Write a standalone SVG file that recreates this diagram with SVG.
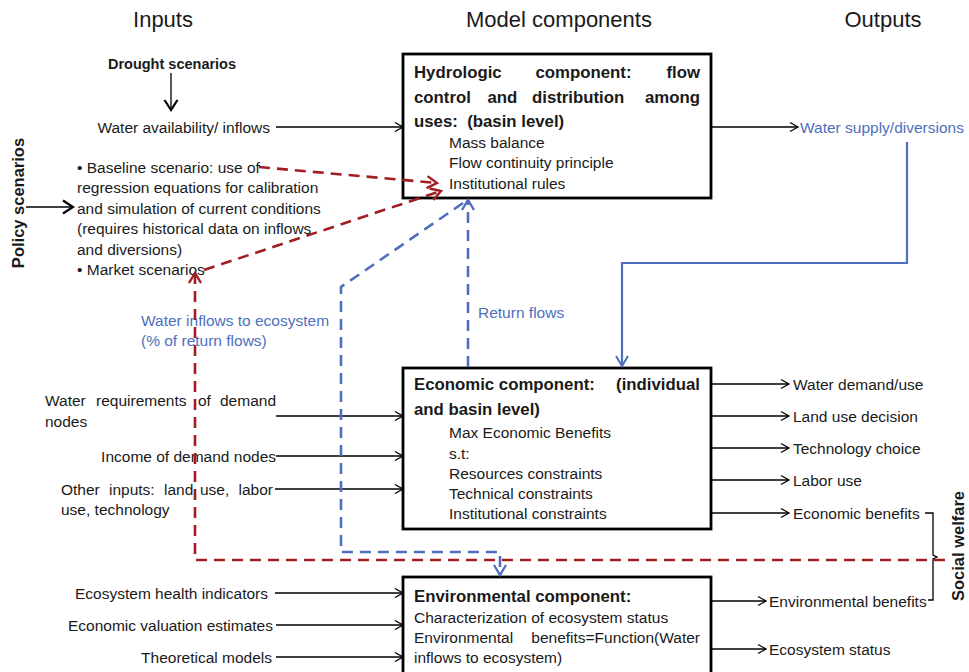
<svg xmlns="http://www.w3.org/2000/svg" width="969" height="672" viewBox="0 0 969 672">
<style>
text{font-family:"Liberation Sans",Arial,sans-serif;fill:#1a1a1a}
.t{font-size:15.5px}
.b{font-size:16.8px;font-weight:bold}
.h{font-size:22px}
.blue{fill:#4f6fbe}
.box{fill:#fff;stroke:#000;stroke-width:2.8}
.ln{stroke:#000;stroke-width:1.3;fill:none}
.red{stroke:#a11d21;stroke-width:2.6;fill:none;stroke-dasharray:11 7}
.bd{stroke:#4f6fbe;stroke-width:2.6;fill:none;stroke-dasharray:11 7}
.bs{stroke:#4f6fbe;stroke-width:2.2;fill:none}
</style>
<defs>
<marker id="ab" markerUnits="userSpaceOnUse" markerWidth="12" markerHeight="12" refX="10" refY="6" orient="auto"><path d="M2,1.5 L10,6 L2,10.5" fill="none" stroke="#000" stroke-width="1.3"/></marker>
<marker id="abt" markerUnits="userSpaceOnUse" markerWidth="16" markerHeight="16" refX="13" refY="8" orient="auto"><path d="M3,1.5 L13,8 L3,14.5" fill="none" stroke="#000" stroke-width="2.2"/></marker>
<marker id="ar" markerUnits="userSpaceOnUse" markerWidth="16" markerHeight="16" refX="13" refY="8" orient="auto"><path d="M3,2 L13,8 L3,14" fill="none" stroke="#a11d21" stroke-width="2.4"/></marker>
<marker id="abl" markerUnits="userSpaceOnUse" markerWidth="16" markerHeight="16" refX="13" refY="8" orient="auto"><path d="M3,2 L13,8 L3,14" fill="none" stroke="#4f6fbe" stroke-width="2.4"/></marker>
<marker id="abs" markerUnits="userSpaceOnUse" markerWidth="16" markerHeight="16" refX="13" refY="8" orient="auto"><path d="M3,2 L13,8 L3,14" fill="none" stroke="#4f6fbe" stroke-width="2"/></marker>
</defs>
<rect width="969" height="672" fill="#fff"/>

<g id="headers">
<text class="h" x="163" y="27" text-anchor="middle">Inputs</text>
<text class="h" x="559" y="27" text-anchor="middle">Model components</text>
<text class="h" x="883" y="27" text-anchor="middle">Outputs</text>
</g>

<g id="drought">
<text class="b" x="172" y="68.5" text-anchor="middle" style="font-size:14.5px">Drought scenarios</text>
</g>
<g id="policy">
<text class="b" transform="translate(24,203) rotate(-90)" text-anchor="middle" style="font-size:16.5px">Policy scenarios</text>
</g>
<g id="social-welfare">
<text class="b" transform="translate(964,546) rotate(-90)" text-anchor="middle" style="font-size:16.5px">Social welfare</text>
</g>

<g id="inputs">
<text class="t" x="270" y="132.5" text-anchor="end">Water availability/ inflows</text>
<text class="t" x="77" y="172.5">• Baseline scenario: use of</text>
<text class="t" x="77" y="192.5">regression equations for calibration</text>
<text class="t" x="77" y="213.5">and simulation of current conditions</text>
<text class="t" x="77" y="233.5">(requires historical data on inflows</text>
<text class="t" x="77" y="254.5">and diversions)</text>
<text class="t" x="77" y="274.5">• Market scenarios</text>
<text class="t" y="405.5"><tspan x="45">Water</tspan><tspan x="96">requirements</tspan><tspan x="198">of</tspan><tspan x="276" text-anchor="end">demand</tspan></text>
<text class="t" x="45" y="426.5">nodes</text>
<text class="t" x="276" y="461.5" text-anchor="end">Income of demand nodes</text>
<text class="t" y="494.5"><tspan x="61">Other</tspan><tspan x="109">inputs:</tspan><tspan x="164">land</tspan><tspan x="200">use,</tspan><tspan x="273" text-anchor="end">labor</tspan></text>
<text class="t" x="61" y="514.5">use, technology</text>
<text class="t" x="268" y="598.5" text-anchor="end">Ecosystem health indicators</text>
<text class="t" x="273" y="630.5" text-anchor="end">Economic valuation estimates</text>
<text class="t" x="272" y="662.5" text-anchor="end">Theoretical models</text>
<text class="t blue" x="141" y="325.5">Water inflows to ecosystem</text>
<text class="t blue" x="141" y="345.5">(% of return flows)</text>
<text class="t blue" x="478" y="317.5">Return flows</text>
</g>

<g id="hydrologic">
<rect class="box" x="403" y="54" width="308" height="144"/>
<text class="b" y="78"><tspan x="414">Hydrologic</tspan><tspan x="583.5" text-anchor="middle">component:</tspan><tspan x="700" text-anchor="end">flow</tspan></text>
<text class="b" y="103"><tspan x="414">control</tspan><tspan x="487.5">and</tspan><tspan x="532">distribution</tspan><tspan x="700" text-anchor="end">among</tspan></text>
<text class="b" x="414" y="127" xml:space="preserve">uses:  (basin level)</text>
<text class="t" x="449" y="147.5">Mass balance</text>
<text class="t" x="449" y="167.5">Flow continuity principle</text>
<text class="t" x="449" y="188.5">Institutional rules</text>
</g>

<g id="economic">
<rect class="box" x="403" y="368" width="308" height="161"/>
<text class="b" y="390"><tspan x="414">Economic component:</tspan><tspan x="700" text-anchor="end">(individual</tspan></text>
<text class="b" x="414" y="415">and basin level)</text>
<text class="t" x="449" y="437.5">Max Economic Benefits</text>
<text class="t" x="449" y="458.5">s.t:</text>
<text class="t" x="449" y="478.5">Resources constraints</text>
<text class="t" x="449" y="498.5">Technical constraints</text>
<text class="t" x="449" y="518.5">Institutional constraints</text>
</g>

<g id="environmental">
<rect class="box" x="403" y="577" width="308" height="110"/>
<text class="b" x="414" y="602">Environmental component:</text>
<text class="t" x="414" y="622.5">Characterization of ecosystem status</text>
<text class="t" y="642.5"><tspan x="414">Environmental</tspan><tspan x="700" text-anchor="end">benefits=Function(Water</tspan></text>
<text class="t" x="414" y="662.5">inflows to ecosystem)</text>
</g>

<g id="outputs">
<text class="t blue" x="800" y="132.5">Water supply/diversions</text>
<text class="t" x="793" y="389.5">Water demand/use</text>
<text class="t" x="793" y="421.5">Land use decision</text>
<text class="t" x="793" y="453.5">Technology choice</text>
<text class="t" x="793" y="485.5">Labor use</text>
<text class="t" x="793" y="518.5">Economic benefits</text>
<text class="t" x="769" y="606.5">Environmental benefits</text>
<text class="t" x="769" y="654.5">Ecosystem status</text>
</g>

<g id="connectors">
<line class="ln" x1="171" y1="73" x2="171" y2="110" stroke-width="2.2" marker-end="url(#abt)"/>
<line class="ln" x1="26" y1="207" x2="73" y2="207" stroke-width="2.2" marker-end="url(#abt)"/>
<line class="ln" x1="276" y1="127" x2="403" y2="127" marker-end="url(#ab)"/>
<line class="ln" x1="711" y1="127" x2="798" y2="127" marker-end="url(#ab)"/>
<line class="ln" x1="276" y1="416" x2="403" y2="416" marker-end="url(#ab)"/>
<line class="ln" x1="276" y1="456" x2="403" y2="456" marker-end="url(#ab)"/>
<line class="ln" x1="275" y1="489" x2="403" y2="489" marker-end="url(#ab)"/>
<line class="ln" x1="275" y1="593" x2="403" y2="593" marker-end="url(#ab)"/>
<line class="ln" x1="276" y1="625" x2="403" y2="625" marker-end="url(#ab)"/>
<line class="ln" x1="276" y1="657" x2="403" y2="657" marker-end="url(#ab)"/>
<line class="ln" x1="711" y1="384" x2="789" y2="384" marker-end="url(#ab)"/>
<line class="ln" x1="711" y1="416" x2="789" y2="416" marker-end="url(#ab)"/>
<line class="ln" x1="711" y1="448" x2="789" y2="448" marker-end="url(#ab)"/>
<line class="ln" x1="711" y1="480" x2="789" y2="480" marker-end="url(#ab)"/>
<line class="ln" x1="711" y1="513" x2="789" y2="513" marker-end="url(#ab)"/>
<line class="ln" x1="711" y1="601" x2="766" y2="601" marker-end="url(#ab)"/>
<line class="ln" x1="711" y1="649" x2="766" y2="649" marker-end="url(#ab)"/>
<path class="ln" d="M925 513 H933 V555 L937 557 L933 559 V600 H928"/>
<path class="bs" d="M907 142 V263 H622 V366" marker-end="url(#abs)"/>
<path class="red" d="M259 167 L437 183" marker-end="url(#ar)"/>
<path class="red" d="M204 270 L441 191" marker-end="url(#ar)"/>
<path class="red" d="M945 560 H195 V273" marker-end="url(#ar)"/>
<path class="bd" d="M468 367 V200" marker-end="url(#abl)"/>
<path class="bd" d="M463 203 L341 287 V552 H500 V575" marker-end="url(#abl)"/>
</g>
</svg>
